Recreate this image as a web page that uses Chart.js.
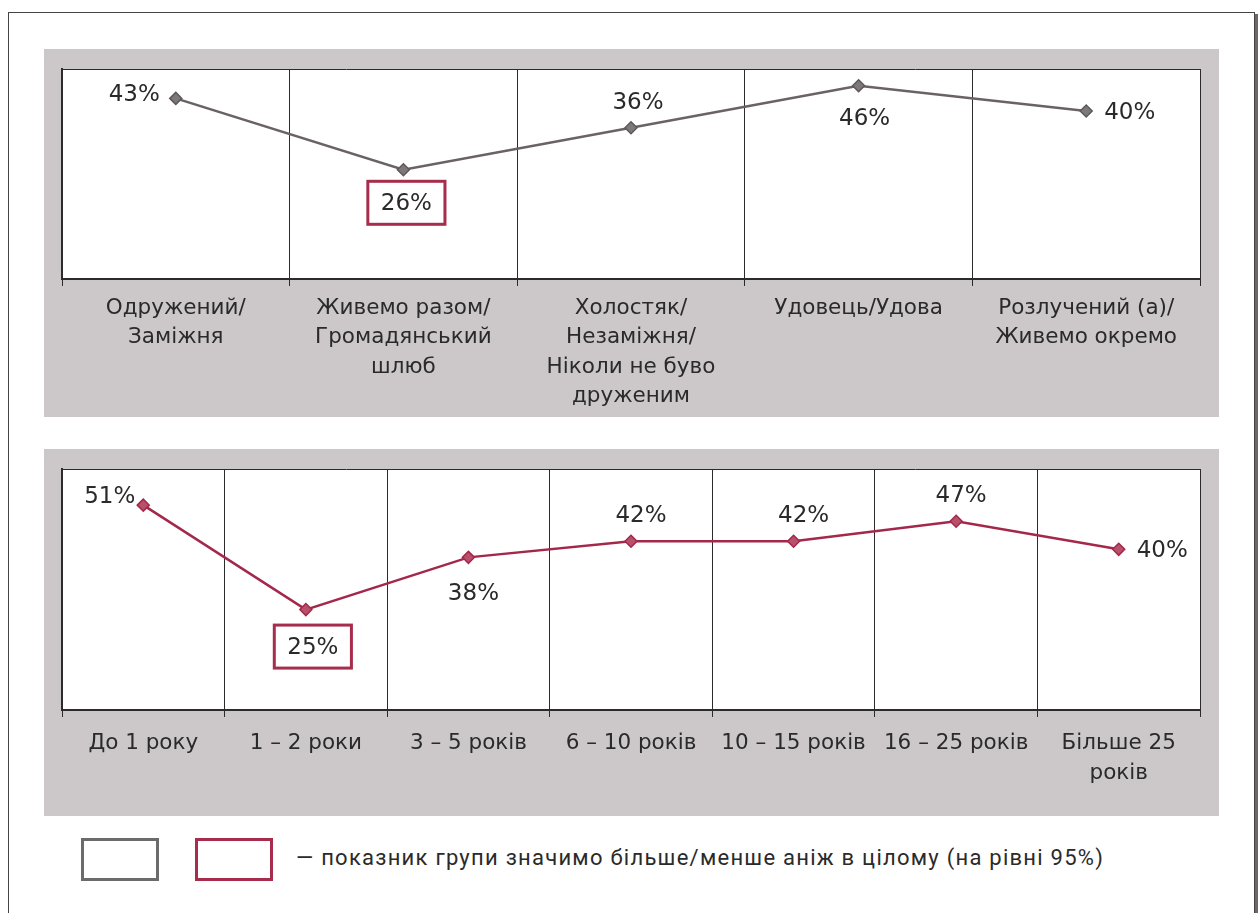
<!DOCTYPE html>
<html>
<head>
<meta charset="utf-8">
<script src="https://cdn.jsdelivr.net/npm/chart.js@4.4.1/dist/chart.umd.min.js"></script>
<style>
  body { margin: 0; background: #fff; width: 1258px; height: 913px; overflow: hidden; position: relative; font-family: 'DejaVu Sans', sans-serif; }
  .frame { position: absolute; left: 8px; top: 12px; width: 1245px; height: 920px; border: 1px solid #444; }
  .edge { position: absolute; left: 1255px; top: 14px; width: 4px; height: 920px; background: #706669; }
  .panel { position: absolute; left: 44px; width: 1175px; background: #ccc8c9; }
  #panelStatus { top: 49px; height: 368px; }
  #panelYears { top: 449px; height: 367px; }
  .key { position: absolute; top: 838px; width: 72px; height: 37px; border: 3px solid; background: #fff; }
  #keyGray { left: 81px; border-color: #6b6b6b; }
  #keyRed { left: 195px; border-color: #a72d4d; }
  .keyText { position: absolute; left: 296px; top: 845px; font-family: Roboto, sans-serif; font-size: 22px; letter-spacing: 1.25px; color: #2a2a2a; white-space: nowrap; }
</style>
</head>
<body>
<div class="frame"></div>
<div class="edge"></div>
<div class="panel" id="panelStatus"><canvas id="statusChart" width="1175" height="368"></canvas></div>
<div class="panel" id="panelYears"><canvas id="yearsChart" width="1175" height="367"></canvas></div>
<div class="key" id="keyGray"></div>
<div class="key" id="keyRed"></div>
<div class="keyText">— показник групи значимо більше/менше аніж в цілому (на рівні 95%)</div>

<script>
// Сімейний стан
const statusLabels = [
    ['Одружений/', 'Заміжня'],
    ['Живемо разом/', 'Громадянський', 'шлюб'],
    ['Холостяк/', 'Незаміжня/', 'Ніколи не буво', 'друженим'],
    'Удовець/Удова',
    ['Розлучений (а)/', 'Живемо окремо']
];
const statusValues = [43, 26, 36, 46, 40];
const statusHighlight = [false, true, false, false, false];

// Тривалість стосунків
const yearsLabels = ['До 1 року', '1 – 2 роки', '3 – 5 років', '6 – 10 років', '10 – 15 років', '16 – 25 років', ['Більше 25', 'років']];
const yearsValues = [51, 25, 38, 42, 42, 47, 40];
const yearsHighlight = [false, true, false, false, false, false, false];

const textColor = '#2a2a2a';
const axisColor = '#2b2b2b';
const boxColor = '#a72d4d';
const fontFamily = "'DejaVu Sans', sans-serif";

// Біле поле графіка та тонка рамка зверху
const plotFrame = {
    id: 'plotFrame',
    beforeDraw(chart) {
        const {ctx, chartArea: a} = chart;
        ctx.save();
        ctx.fillStyle = '#fff';
        ctx.fillRect(a.left, a.top, a.right - a.left, a.bottom - a.top);
        ctx.restore();
    },
    afterDraw(chart) {
        const {ctx, chartArea: a} = chart;
        ctx.save();
        ctx.strokeStyle = axisColor;
        ctx.lineWidth = 1;
        ctx.beginPath();
        ctx.moveTo(a.left, a.top + 0.5);
        ctx.lineTo(a.right, a.top + 0.5);
        ctx.stroke();
        ctx.restore();
    }
};

// Підписи значень біля точок; виділені значення в рамці
const valueLabels = {
    id: 'valueLabels',
    afterDatasetsDraw(chart, args, opts) {
        const {ctx} = chart;
        const meta = chart.getDatasetMeta(0);
        const values = chart.data.datasets[0].data;
        ctx.save();
        ctx.font = '23px ' + fontFamily;
        ctx.fillStyle = textColor;
        ctx.textBaseline = 'middle';
        meta.data.forEach((pt, i) => {
            const text = values[i] + '%';
            const place = opts.place[i];
            const [dx, dy] = opts.shift[i] || [0, 0];
            let x = pt.x, y = pt.y + 2;
            ctx.textAlign = 'center';
            if (place === 'left') { ctx.textAlign = 'right'; x -= 16; }
            if (place === 'right') { ctx.textAlign = 'left'; x += 18; }
            if (place === 'above') y -= 27;
            if (place === 'below') y += 32;
            x += dx; y += dy;
            if (opts.highlight[i]) {
                const w = ctx.measureText(text).width + 26;
                const h = 43;
                const by = y - 1;
                ctx.fillStyle = '#fff';
                ctx.fillRect(x - w / 2, by - h / 2, w, h);
                ctx.strokeStyle = boxColor;
                ctx.lineWidth = 3;
                ctx.strokeRect(x - w / 2, by - h / 2, w, h);
                ctx.fillStyle = textColor;
            }
            ctx.fillText(text, x, y);
        });
        ctx.restore();
    }
};

function makeChart(canvasId, labels, values, yMax, axisHeight, tickPad, lineHeight, lineColor, pointFill, pointBorder, labelOpts) {
    return new Chart(document.getElementById(canvasId), {
        type: 'line',
        data: {
            labels: labels,
            datasets: [{
                data: values,
                borderColor: lineColor,
                borderWidth: 2.5,
                pointStyle: 'rectRot',
                pointRadius: 6,
                pointBackgroundColor: pointFill,
                pointBorderColor: pointBorder,
                pointBorderWidth: 1.5,
                tension: 0
            }]
        },
        options: {
            responsive: false,
            animation: false,
            devicePixelRatio: 1,
            layout: { padding: { left: 18, right: 19, top: 20, bottom: 0 } },
            plugins: {
                legend: { display: false },
                tooltip: { enabled: false },
                valueLabels: labelOpts
            },
            scales: {
                x: {
                    offset: true,
                    grid: { offset: true, color: axisColor, lineWidth: 1, tickLength: 7 },
                    border: { color: axisColor, width: 2 },
                    ticks: {
                        color: textColor,
                        font: { family: fontFamily, size: 21.5, lineHeight: lineHeight },
                        padding: tickPad,
                        maxRotation: 0,
                        autoSkip: false
                    },
                    afterFit(scale) { scale.height = axisHeight; }
                },
                y: {
                    min: 0,
                    max: yMax,
                    ticks: { display: false },
                    grid: { display: false },
                    border: { color: axisColor, width: 2 },
                    afterFit(scale) { scale.width = 0; }
                }
            }
        },
        plugins: [plotFrame, valueLabels]
    });
}

makeChart('statusChart', statusLabels, statusValues, 50, 138, 8, 1.36, '#6a6265', '#7d787b', '#5e585b', {
    highlight: statusHighlight,
    place: ['left', 'below', 'above', 'below', 'right'],
    shift: [[0, -5], [3, 0], [7, 0], [6, -1], [0, 0]]
});

makeChart('yearsChart', yearsLabels, yearsValues, 60, 106, 11, 1.4, '#a3284b', '#b8506a', '#a3284b', {
    highlight: yearsHighlight,
    place: ['left', 'below', 'below', 'above', 'above', 'above', 'right'],
    shift: [[8, -10], [7, 4], [5, 3], [10, 0], [10, 0], [5, 0], [0, 0]]
});
</script>
</body>
</html>
